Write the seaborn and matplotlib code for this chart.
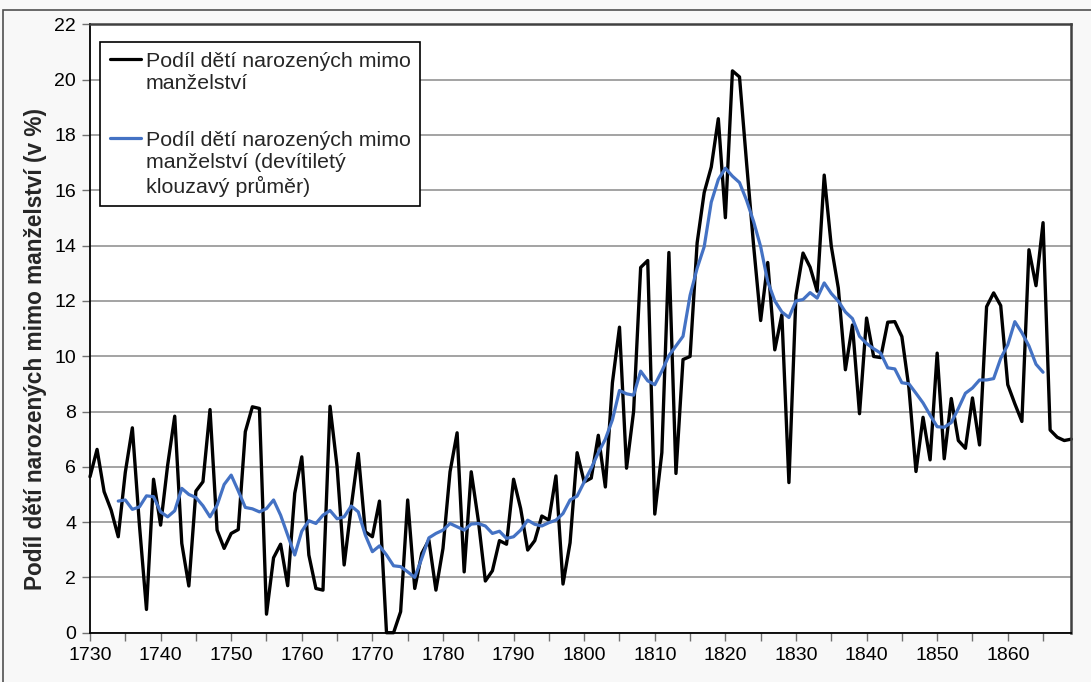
import numpy as np
import pandas as pd
import matplotlib
matplotlib.use('Agg')
import matplotlib.pyplot as plt
from matplotlib.lines import Line2D
from matplotlib.patches import Rectangle
from matplotlib.ticker import MultipleLocator
import seaborn as sns

# yearly share of children born out of wedlock (%), 1730-1869
years = list(range(1730, 1870))
podil = [
    5.64, 6.63, 5.10, 4.43, 3.47, 5.8, 7.41, 3.9, 0.84, 5.55,
    3.89, 6.06, 7.83, 3.23, 1.69, 5.12, 5.46, 8.07, 3.71, 3.05,
    3.59, 3.73, 7.27, 8.17, 8.11, 0.67, 2.71, 3.20, 1.70, 5.04,
    6.36, 2.81, 1.60, 1.54, 8.19, 6.0, 2.45, 4.55, 6.48, 3.65,
    3.47, 4.76, 0.0, 0.0, 0.76, 4.80, 1.60, 2.87, 3.35, 1.54,
    3.05, 5.82, 7.23, 2.20, 5.82, 4.07, 1.87, 2.24, 3.33, 3.20,
    5.55, 4.49, 2.99, 3.33, 4.22, 4.07, 5.67, 1.76, 3.25, 6.51,
    5.45, 5.59, 7.14, 5.27, 9.04, 11.05, 5.95, 8.0, 13.21, 13.46,
    4.29, 6.51, 13.75, 5.76, 9.88, 9.99, 14.10, 15.92, 16.84, 18.59,
    15.01, 20.32, 20.10, 17.0, 14.0, 11.29, 13.39, 10.23, 11.50, 5.43,
    12.2, 13.73, 13.22, 12.35, 16.55, 13.98, 12.46, 9.51, 11.13, 7.92,
    11.38, 9.99, 9.95, 11.23, 11.25, 10.71, 8.85, 5.83, 7.79, 6.25,
    10.11, 6.29, 8.47, 6.95, 6.67, 8.49, 6.79, 11.79, 12.29, 11.83,
    8.97, 8.28, 7.64, 13.85, 12.55, 14.83, 7.33, 7.07, 6.95, 7.0,
]

# nine-year moving average as drawn (1734-1865)
roky_prumer = list(range(1734, 1866))
prumer = [
    4.76, 4.80, 4.46, 4.55, 4.95, 4.92,
    4.37, 4.19, 4.41, 5.22, 5.00, 4.89, 4.59, 4.19, 4.61, 5.36,
    5.70, 5.13, 4.53, 4.48, 4.37, 4.49, 4.80, 4.25, 3.53, 2.81,
    3.67, 4.05, 3.95, 4.25, 4.42, 4.12, 4.19, 4.58, 4.37, 3.53,
    2.93, 3.14, 2.81, 2.42, 2.39, 2.20, 2.00, 2.69, 3.43, 3.59,
    3.71, 3.95, 3.83, 3.71, 3.93, 3.95, 3.86, 3.59, 3.67, 3.41,
    3.47, 3.71, 4.07, 3.92, 3.86, 3.98, 4.07, 4.31, 4.80, 4.94,
    5.45, 5.95, 6.51, 7.0, 7.70, 8.76, 8.64, 8.59, 9.46, 9.11,
    8.97, 9.46, 10.02, 10.37, 10.72, 12.20, 13.18, 13.96, 15.57, 16.39,
    16.80, 16.51, 16.28, 15.64, 14.87, 13.96, 12.7, 12.0, 11.6, 11.4,
    12.0, 12.05, 12.3, 12.1, 12.65, 12.27, 11.99, 11.6, 11.36, 10.72,
    10.46, 10.27, 10.11, 9.58, 9.54, 9.04, 9.0, 8.66, 8.31, 7.87,
    7.45, 7.43, 7.60, 8.11, 8.66, 8.85, 9.14, 9.14, 9.19, 9.92,
    10.41, 11.25, 10.85, 10.37, 9.71, 9.42,
]

label1 = ['Podíl dětí narozených mimo', 'manželství']
label2 = ['Podíl dětí narozených mimo', 'manželství (devítiletý', 'klouzavý průměr)']
ylabel = 'Podíl dětí narozených mimo manželství (v %)'

sns.set_style('white')
plt.rcParams['font.family'] = ['Liberation Sans', 'DejaVu Sans']

fig = plt.figure(figsize=(10.91, 6.82), dpi=100, facecolor='#f8f8f8')
ax = fig.add_axes([90/1091, 1 - 632.7/682, (1071.3 - 90)/1091, (632.7 - 24.4)/682])
ax.set_facecolor('white')

df = pd.DataFrame({'rok': years, 'podil': podil})
dfp = pd.DataFrame({'rok': roky_prumer, 'prumer': prumer})
sns.lineplot(data=df, x='rok', y='podil', color='black', linewidth=2.4, ax=ax, legend=False, clip_on=False)
sns.lineplot(data=dfp, x='rok', y='prumer', color='#4472C4', linewidth=2.3, ax=ax, legend=False)

ax.set_xlim(1730, 1869)
ax.set_ylim(0, 22)
ax.xaxis.set_major_locator(MultipleLocator(10))
ax.xaxis.set_minor_locator(MultipleLocator(5))
ax.yaxis.set_major_locator(MultipleLocator(2))
ax.grid(axis='y', color='#8a8a8a', linewidth=1.1)
ax.set_axisbelow(True)

ax.tick_params(axis='both', which='both', direction='out', length=6, width=1, color='#707070',
               labelsize=14, labelcolor='black', pad=4)
ax.tick_params(axis='x', which='both', bottom=True)
ax.tick_params(axis='y', left=True)

for side in ['left', 'bottom']:
    ax.spines[side].set_color('black')
    ax.spines[side].set_linewidth(1.3)
for side in ['top', 'right']:
    ax.spines[side].set_color('#404040')
    ax.spines[side].set_linewidth(1.8)

ax.set_xlabel('')
ax.set_ylabel(ylabel, fontsize=16.3, fontweight='bold')
ax.yaxis.set_label_coords(-0.044, 0.467)

blank = Line2D([], [], color='none')
handles = [Line2D([], [], color='black', linewidth=2.3), blank, blank,
           Line2D([], [], color='#4472C4', linewidth=2.3), blank, blank]
labels = [label1[0], label1[1], '', label2[0], label2[1], label2[2]]
leg = ax.legend(handles, labels, loc='upper left', bbox_to_anchor=(10/981.3, 1 - 17.6/608.3),
                fontsize=15.4, frameon=True, fancybox=False, edgecolor='black',
                facecolor='white', framealpha=1, handlelength=1.45, handletextpad=0.24,
                labelspacing=0.17, borderpad=0.45, borderaxespad=0)
leg.get_frame().set_linewidth(1.2)
leg.get_texts()[2].set_fontsize(23)

fig.patches.append(Rectangle((3/1091, -0.1), 1.2, 1 - 10/682 + 0.1, transform=fig.transFigure,
                             fill=False, edgecolor='#505050', linewidth=1.2, zorder=0))

fig.savefig('out.png', dpi=100, facecolor=fig.get_facecolor())
